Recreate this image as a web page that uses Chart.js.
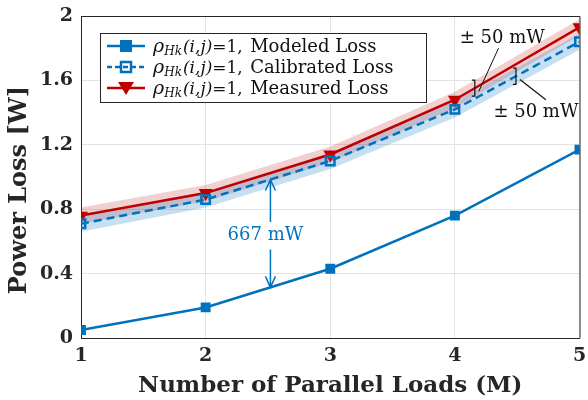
<!DOCTYPE html>
<html>
<head>
<meta charset="utf-8">
<script src="https://cdn.jsdelivr.net/npm/chart.js@4.4.1/dist/chart.umd.min.js"></script>
<style>
  html, body { margin: 0; padding: 0; background: #fff; }
  #wrap { width: 588px; height: 400px; position: relative; }
</style>
</head>
<body>
<div id="wrap"><canvas id="lossChart"></canvas></div>
<script>
// Данные: число параллельных нагрузок и потери мощности, Вт
const loads = [1, 2, 3, 4, 5];
const modeledLoss = [0.05, 0.19, 0.43, 0.76, 1.17];
const calibratedLoss = [0.71, 0.86, 1.10, 1.42, 1.84];
const measuredLoss = [0.76, 0.90, 1.14, 1.48, 1.93];
const bandWidth = 0.05; // ±50 мВт
const yTicks = [0, 0.4, 0.8, 1.2, 1.6, 2];
const xTicks = [1, 2, 3, 4, 5];

const BLUE = 'rgb(0,114,189)';
const RED = 'rgb(192,0,0)';
const SERIF = '"DejaVu Serif", "Liberation Serif", serif';

const pts = arr => loads.map((x, i) => ({ x: x, y: arr[i] }));
const shift = (arr, d) => arr.map(v => v + d);

// Значение ряда в произвольной точке x (линейно между узлами)
function seriesAt(arr, x) {
    const i = Math.min(Math.max(Math.floor(x) - 1, 0), loads.length - 2);
    const t = x - loads[i];
    return arr[i] + (arr[i + 1] - arr[i]) * t;
}

// Рамка осей сверху и справа + подпись оси Y
const boxPlugin = {
    id: 'box',
    afterDatasetsDraw(chart) {
        const { ctx, chartArea: a } = chart;
        ctx.save();
        ctx.strokeStyle = '#262626';
        ctx.lineWidth = 1;
        ctx.beginPath();
        ctx.moveTo(a.left, a.top + 0.5);
        ctx.lineTo(a.right + 0.5, a.top + 0.5);
        ctx.lineTo(a.right + 0.5, a.bottom);
        ctx.stroke();

        ctx.translate(20, 190);
        ctx.rotate(-Math.PI / 2);
        ctx.fillStyle = '#262626';
        ctx.font = 'bold 24px ' + SERIF;
        ctx.textAlign = 'center';
        ctx.textBaseline = 'middle';
        ctx.fillText('Power Loss [W]', 0, 0);
        ctx.restore();
    }
};

function arrow(ctx, x, y0, y1, color) {
    const dir = y1 > y0 ? 1 : -1;
    ctx.strokeStyle = color;
    ctx.lineWidth = 1.5;
    ctx.beginPath();
    ctx.moveTo(x, y0);
    ctx.lineTo(x, y1);
    ctx.moveTo(x - 5, y1 - dir * 11);
    ctx.lineTo(x, y1);
    ctx.lineTo(x + 5, y1 - dir * 11);
    ctx.stroke();
}

function bracket(ctx, x, yTop, yBot) {
    ctx.strokeStyle = '#111';
    ctx.lineWidth = 1.2;
    ctx.beginPath();
    ctx.moveTo(x - 3, yTop);
    ctx.lineTo(x, yTop);
    ctx.lineTo(x, yBot);
    ctx.lineTo(x - 3, yBot);
    ctx.stroke();
}

// Подписи: разница 667 мВт и ширина полос ±50 мВт
const notesPlugin = {
    id: 'notes',
    afterDatasetsDraw(chart) {
        const { ctx } = chart;
        const xs = chart.scales.x, ys = chart.scales.y;
        ctx.save();

        const ax = 2.52;
        const px = xs.getPixelForValue(ax);
        arrow(ctx, px, ys.getPixelForValue(0.72), ys.getPixelForValue(seriesAt(calibratedLoss, ax)), BLUE);
        arrow(ctx, px, ys.getPixelForValue(0.55), ys.getPixelForValue(seriesAt(modeledLoss, ax)), BLUE);
        ctx.fillStyle = BLUE;
        ctx.font = '18px ' + SERIF;
        ctx.textAlign = 'center';
        ctx.textBaseline = 'middle';
        ctx.fillText('667 mW', px - 5, ys.getPixelForValue(0.637));

        // полоса измеренных потерь
        const bx1 = 4.16;
        const m1 = seriesAt(measuredLoss, bx1);
        const b1x = xs.getPixelForValue(bx1);
        bracket(ctx, b1x, ys.getPixelForValue(m1 + bandWidth), ys.getPixelForValue(m1 - bandWidth));
        ctx.strokeStyle = '#111';
        ctx.lineWidth = 1;
        ctx.beginPath();
        ctx.moveTo(b1x + 4, ys.getPixelForValue(m1 - 0.02));
        ctx.lineTo(xs.getPixelForValue(4.35), ys.getPixelForValue(1.80));
        ctx.stroke();
        ctx.fillStyle = '#111';
        ctx.font = '18px ' + SERIF;
        ctx.fillText('\u00b1 50 mW', xs.getPixelForValue(4.38), ys.getPixelForValue(1.864));

        // полоса калиброванных потерь
        const bx2 = 4.49;
        const c2 = seriesAt(calibratedLoss, bx2);
        const b2x = xs.getPixelForValue(bx2);
        bracket(ctx, b2x, ys.getPixelForValue(c2 + bandWidth), ys.getPixelForValue(c2 - bandWidth));
        ctx.beginPath();
        ctx.moveTo(b2x + 4, ys.getPixelForValue(c2 - 0.02));
        ctx.lineTo(xs.getPixelForValue(4.73), ys.getPixelForValue(1.48));
        ctx.stroke();
        ctx.fillText('\u00b1 50 mW', xs.getPixelForValue(4.65), ys.getPixelForValue(1.40));

        ctx.restore();
    }
};

// Легенда с подстрочным индексом
const legendPlugin = {
    id: 'mlegend',
    afterDraw(chart) {
        const { ctx } = chart;
        const items = [
            { label: 'Modeled Loss', color: BLUE, dash: [], marker: 'fsquare' },
            { label: 'Calibrated Loss', color: BLUE, dash: [5, 3], marker: 'osquare' },
            { label: 'Measured Loss', color: RED, dash: [], marker: 'tri' }
        ];
        const x0 = 100, y0 = 33, w = 326, h = 69;
        ctx.save();
        ctx.fillStyle = '#fff';
        ctx.fillRect(x0, y0, w, h);
        ctx.strokeStyle = '#262626';
        ctx.lineWidth = 1;
        ctx.strokeRect(x0 + 0.5, y0 + 0.5, w, h);

        items.forEach((it, i) => {
            const y = 46 + i * 21;
            ctx.strokeStyle = it.color;
            ctx.lineWidth = 2.5;
            ctx.setLineDash(it.dash);
            ctx.beginPath();
            ctx.moveTo(107, y);
            ctx.lineTo(145, y);
            ctx.stroke();
            ctx.setLineDash([]);
            const cx = 126;
            if (it.marker === 'fsquare') {
                ctx.fillStyle = it.color;
                ctx.fillRect(cx - 6, y - 6, 12, 12);
            } else if (it.marker === 'osquare') {
                ctx.lineWidth = 2.5;
                ctx.strokeRect(cx - 5, y - 5, 10, 10);
            } else {
                ctx.fillStyle = it.color;
                ctx.beginPath();
                ctx.moveTo(cx - 8, y - 6);
                ctx.lineTo(cx + 8, y - 6);
                ctx.lineTo(cx, y + 7);
                ctx.closePath();
                ctx.fill();
            }

            ctx.fillStyle = '#111';
            ctx.textBaseline = 'alphabetic';
            ctx.textAlign = 'left';
            let tx = 153;
            const base = y + 6;
            ctx.font = 'italic 19px ' + SERIF;
            ctx.fillText('\u03c1', tx, base);
            tx += ctx.measureText('\u03c1').width;
            ctx.font = 'italic 12px ' + SERIF;
            ctx.fillText('Hk', tx, base + 3);
            tx += ctx.measureText('Hk').width + 1;
            ctx.font = 'italic 17px ' + SERIF;
            ctx.fillText('(i,j)', tx, base);
            tx += ctx.measureText('(i,j)').width;
            ctx.font = '17px ' + SERIF;
            ctx.fillText('=1,', tx, base);
            tx += ctx.measureText('=1, ').width + 2;
            ctx.font = '18px ' + SERIF;
            ctx.fillText(it.label, tx, base);
        });
        ctx.restore();
    }
};

const ctx = document.getElementById('lossChart').getContext('2d');
const lossChart = new Chart(ctx, {
    type: 'line',
    data: {
        datasets: [
            {
                label: 'Modeled Loss', data: pts(modeledLoss), order: 0,
                borderColor: BLUE, backgroundColor: BLUE, borderWidth: 2.5,
                pointStyle: 'rect', pointRadius: 7, pointBorderWidth: 0, fill: false
            },
            {
                label: 'Calibrated Loss', data: pts(calibratedLoss), order: 0,
                borderColor: BLUE, borderWidth: 2.5, borderDash: [8, 5],
                pointStyle: 'rect', pointRadius: 6, pointBorderWidth: 2.5,
                pointBackgroundColor: 'rgba(0,0,0,0)', pointBorderColor: BLUE, fill: false
            },
            {
                label: 'Measured Loss', data: pts(measuredLoss), order: 0,
                borderColor: RED, backgroundColor: RED, borderWidth: 2.5,
                pointStyle: 'triangle', pointRotation: 180, pointRadius: 8, pointBorderWidth: 0, fill: false
            },
            // полосы ±50 мВт
            {
                label: 'cal-low', data: pts(shift(calibratedLoss, -bandWidth)), order: 1,
                borderWidth: 0, pointRadius: 0, fill: false
            },
            {
                label: 'cal-high', data: pts(shift(calibratedLoss, bandWidth)), order: 1,
                borderWidth: 0, pointRadius: 0, fill: '-1', backgroundColor: 'rgba(0,114,189,0.22)'
            },
            {
                label: 'meas-low', data: pts(shift(measuredLoss, -bandWidth)), order: 1,
                borderWidth: 0, pointRadius: 0, fill: false
            },
            {
                label: 'meas-high', data: pts(shift(measuredLoss, bandWidth)), order: 1,
                borderWidth: 0, pointRadius: 0, fill: '-1', backgroundColor: 'rgba(200,40,40,0.22)'
            }
        ]
    },
    options: {
        responsive: true,
        maintainAspectRatio: false,
        animation: false,
        layout: { padding: { top: 16, right: 7, left: 0, bottom: 0 } },
        plugins: {
            legend: { display: false },
            tooltip: { enabled: false }
        },
        scales: {
            x: {
                type: 'linear', min: 1, max: 5,
                afterBuildTicks: s => { s.ticks = xTicks.map(v => ({ value: v })); },
                afterFit: s => { s.height = 62; s.paddingLeft = 0; s.paddingRight = 0; },
                grid: { color: '#e3e3e3', drawTicks: false },
                border: { color: '#262626', width: 1 },
                ticks: {
                    color: '#262626', padding: 7,
                    font: { family: SERIF, size: 19, weight: 'bold' }
                },
                title: {
                    display: true, text: 'Number of Parallel Loads (M)', color: '#262626',
                    padding: { top: 0, bottom: 0 },
                    font: { family: SERIF, size: 23, weight: 'bold' }
                }
            },
            y: {
                type: 'linear', min: 0, max: 2,
                afterBuildTicks: s => { s.ticks = yTicks.map(v => ({ value: v })); },
                afterFit: s => { s.width = 81; s.paddingTop = 0; s.paddingBottom = 0; },
                grid: { color: '#e3e3e3', drawTicks: false },
                border: { color: '#262626', width: 1 },
                ticks: {
                    color: '#262626', padding: 8,
                    font: { family: SERIF, size: 19, weight: 'bold' },
                    callback: v => String(v)
                },
                title: { display: false }
            }
        }
    },
    plugins: [boxPlugin, notesPlugin, legendPlugin]
});
</script>
</body>
</html>
